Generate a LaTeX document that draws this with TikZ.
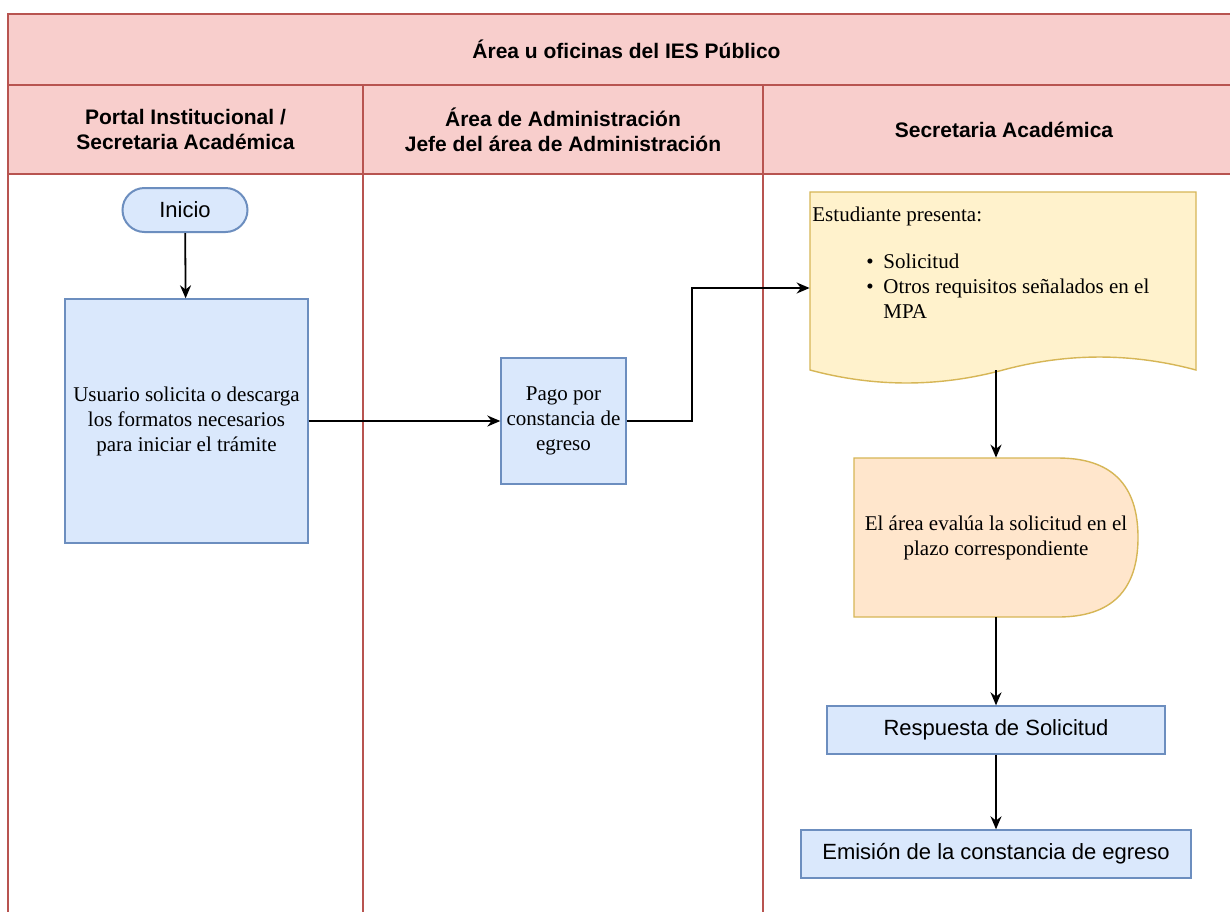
\documentclass[tikz,border=0pt]{standalone}
\usepackage{fontspec}
\setmainfont{Liberation Serif}
\setsansfont{Liberation Sans}
\usepackage{tikz}
\usetikzlibrary{arrows.meta}
\usetikzlibrary{positioning}
\usetikzlibrary{shapes.misc}
\usepackage{xcolor}

\definecolor{headfill}{HTML}{F8CECC}
\definecolor{headline}{HTML}{B85450}
\definecolor{bluefill}{HTML}{DAE8FC}
\definecolor{blueline}{HTML}{6C8EBF}
\definecolor{docfill}{HTML}{FFF2CC}
\definecolor{docline}{HTML}{D6B656}
\definecolor{evalfill}{HTML}{FFE6CC}

\tikzset{
	header/.style={draw=headline, fill=headfill, line width=0.8pt, inner sep=0pt,
		font=\sffamily\bfseries\fontsize{10.5}{12.5}\selectfont, align=center},
	lanebody/.style={draw=headline, fill=white, line width=0.8pt},
	bluebox/.style={draw=blueline, fill=bluefill, line width=0.7pt, inner sep=0pt, align=center},
	serif/.style={font=\rmfamily\fontsize{10.5}{12.5}\selectfont},
	sans/.style={font=\sffamily\fontsize{11}{13}\selectfont},
	flow/.style={-{Stealth[length=6.5pt,width=5.5pt]}, line width=0.9pt, black}
}

\begin{document}
\begin{tikzpicture}[x=0.5pt, y=-0.5pt] % swimlanes of the IES process
	
	\useasboundingbox (0,0) rectangle (1230,911);
	\clip (0,0) rectangle (1230,911);
	\fill[white] (0,0) rectangle (1230,911);
	
	%lanes
	\draw[lanebody] (8,174) rectangle (363,930);
	\draw[lanebody] (363,174) rectangle (763,930);
	\draw[lanebody] (763,174) rectangle (1260,930);
	
	%headers
	\node[header, minimum width=626pt, minimum height=35.5pt] (title) at (634,49.5) {\hspace*{-7.5pt}Área u oficinas del IES Público};
	\node[header, minimum width=177.5pt, minimum height=44.5pt] (laneA) at (185.5,129.5) {Portal Institucional /\\Secretaria Académica};
	\node[header, minimum width=200pt, minimum height=44.5pt] (laneB) at (563,129.5) {Área de Administración\\Jefe del área de Administración};
	\node[header, minimum width=248.5pt, minimum height=44.5pt] (laneC) at (1011.5,129.5) {\hspace*{-7.5pt}Secretaria Académica};
	
	%shapes drawn by hand
	\filldraw[draw=docline, fill=docfill, line width=0.7pt] (810,192) -- (1196,192) -- (1196,370)
		.. controls (1131.7,352.7) and (1067.3,352.7) .. (1003,370)
		.. controls (938.7,387.3) and (874.3,387.3) .. (810,370) -- cycle;
	\filldraw[draw=docline, fill=evalfill, line width=0.7pt] (854,458) -- (1058,458)
		.. controls (1111.3,458) and (1138,484.5) .. (1138,537.5)
		.. controls (1138,590.5) and (1111.3,617) .. (1058,617) -- (854,617) -- cycle;
	
	%nodes
	\node[bluebox, sans, rounded rectangle, line width=1pt, minimum width=62.5pt, minimum height=22pt] (inicio) at (185,210) {Inicio};
	\node[bluebox, serif, minimum width=121.5pt, minimum height=122pt] (usuario) at (186.5,421) {Usuario solicita o descarga\\los formatos necesarios\\para iniciar el trámite};
	\node[bluebox, serif, minimum width=62.5pt, minimum height=63pt] (pago) at (563.5,421) {Pago por\\constancia de\\egreso};
	\node[minimum width=193pt, minimum height=89pt, inner sep=0pt] (doc) at (1003,281) {};
	\node[serif, anchor=north west, inner sep=0pt, align=left] (doctext) at (812,207) {Estudiante presenta:\\[11pt]
		\hspace*{27pt}\makebox[8.5pt][l]{\textbullet}Solicitud\\
		\hspace*{27pt}\makebox[8.5pt][l]{\textbullet}Otros requisitos señalados en el\\
		\hspace*{35.5pt}MPA};
	\node[serif, align=center, minimum width=142pt, minimum height=79.5pt, inner sep=0pt] (eval) at (996,537.5) {El área evalúa la solicitud en el\\plazo correspondiente};
	\node[bluebox, sans, minimum width=169pt, minimum height=24pt] (resp) at (996,730) {Respuesta de Solicitud};
	\node[bluebox, sans, minimum width=195pt, minimum height=24pt] (emision) at (996,854) {Emisión de la constancia de egreso};
	\coordinate (bend) at (692,288);
	
	%arrows
	\draw[flow] (inicio) -- (usuario);
	\draw[flow] (usuario) -- (pago);
	\draw[flow] (pago.east) -| (bend) -- (bend -| doc.west);
	\draw[flow] (doc.south -| eval.north) -- (eval.north);
	\draw[flow] (eval) -- (resp);
	\draw[flow] (resp) -- (emision);
	
\end{tikzpicture}
\end{document}
